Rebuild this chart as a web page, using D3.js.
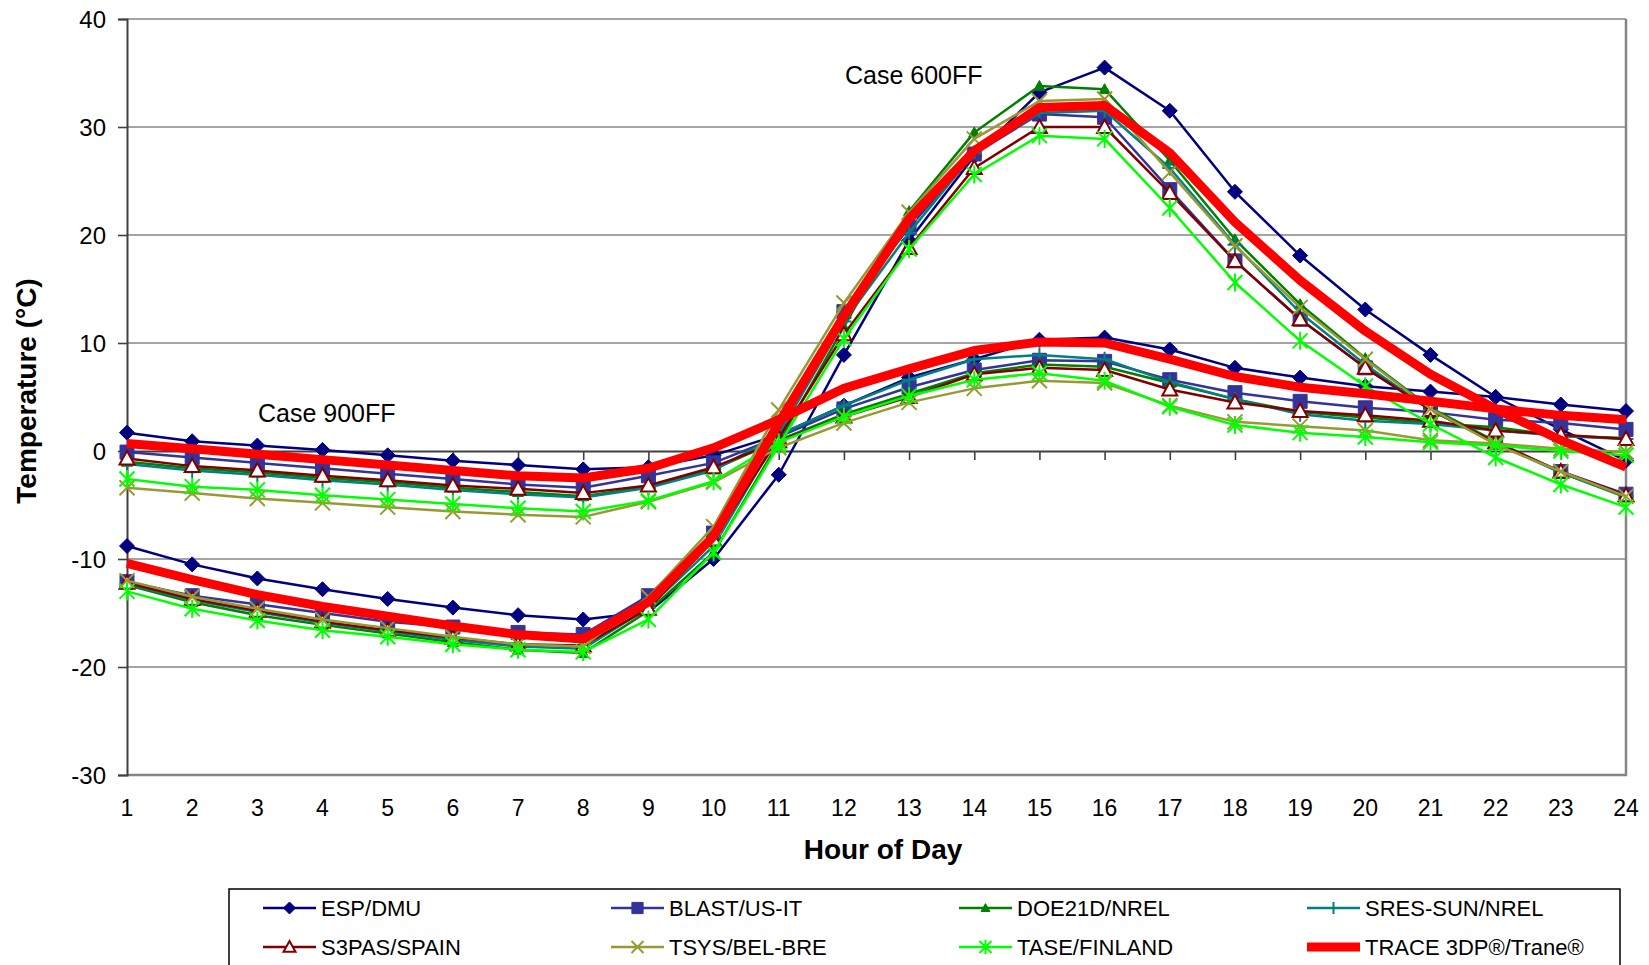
<!DOCTYPE html>
<html>
<head>
<meta charset="utf-8">
<style>
body { margin: 0; background: #fff; }
svg { display: block; font-family: "Liberation Sans", Arial, sans-serif; }
.tick text { font-size: 23px; fill: #000; }
</style>
</head>
<body>
<svg id="chart" width="1649" height="965"></svg>
<script src="https://cdnjs.cloudflare.com/ajax/libs/d3/7.8.5/d3.min.js"></script>
<script>
// hours on x axis
var hours = d3.range(1, 25)
var yTicks = [-30, -20, -10, 0, 10, 20, 30, 40]

var seriesNames = ['ESP/DMU', 'BLAST/US-IT', 'DOE21D/NREL', 'SRES-SUN/NREL', 'S3PAS/SPAIN', 'TSYS/BEL-BRE', 'TASE/FINLAND', 'TRACE 3DP\u00ae/Trane\u00ae']

// Case 600FF
var esp600   = [-8.8, -10.5, -11.8, -12.8, -13.7, -14.5, -15.2, -15.6, -14.9, -10.0, -2.2, 8.9, 19.5, 27.3, 33.2, 35.5, 31.5, 24.0, 18.1, 13.1, 8.9, 5.0, 2.0, -0.9]
var blast600 = [-12.1, -13.4, -14.2, -15.0, -15.8, -16.3, -16.8, -17.0, -13.4, -7.6, 2.0, 12.9, 20.7, 27.5, 31.2, 30.9, 24.2, 17.6, 12.2, 7.7, 3.8, 0.8, -1.9, -4.0]
var doe600   = [-12.4, -14.0, -15.2, -16.1, -16.9, -17.7, -18.4, -18.7, -14.8, -9.4, 0.8, 11.5, 22.2, 29.5, 33.8, 33.5, 26.9, 19.6, 13.6, 8.6, 4.0, 0.9, -2.0, -4.3]
var sres600  = [-12.3, -13.8, -14.9, -15.9, -16.7, -17.5, -18.1, -18.3, -14.5, -8.8, 1.5, 12.0, 20.2, 27.6, 31.3, 31.5, 26.2, 19.1, 12.8, 8.0, 3.8, 0.7, -2.0, -4.2]
var s3pas600 = [-12.2, -13.7, -14.8, -15.8, -16.6, -17.3, -17.9, -18.0, -14.6, -8.2, 1.2, 10.8, 18.8, 26.2, 30.0, 30.0, 23.9, 17.6, 12.2, 7.7, 3.8, 0.8, -1.9, -4.1]
var tsys600  = [-12.0, -13.5, -14.6, -15.6, -16.4, -17.2, -17.9, -18.1, -13.5, -7.0, 3.8, 13.7, 22.1, 28.9, 32.4, 32.6, 25.8, 19.0, 13.3, 8.5, 3.9, 0.6, -1.9, -4.2]
var tase600  = [-13.0, -14.6, -15.7, -16.6, -17.2, -17.9, -18.4, -18.6, -15.6, -9.4, 0.5, 10.4, 18.7, 25.6, 29.2, 28.9, 22.5, 15.6, 10.2, 6.0, 2.5, -0.6, -3.1, -5.2]
var trace600 = [-10.4, -11.9, -13.3, -14.4, -15.3, -16.2, -17.0, -17.4, -14.0, -7.9, 2.6, 12.5, 21.5, 27.8, 31.8, 32.0, 27.6, 21.2, 15.8, 11.1, 7.1, 3.9, 1.0, -1.5]

// Case 900FF
var esp900   = [1.7, 0.9, 0.5, 0.1, -0.4, -0.9, -1.3, -1.7, -1.5, -0.4, 1.5, 4.2, 6.8, 8.5, 10.3, 10.5, 9.4, 7.7, 6.8, 6.0, 5.5, 5.0, 4.3, 3.7]
var blast900 = [-0.1, -0.6, -1.1, -1.6, -2.1, -2.6, -3.1, -3.4, -2.3, -1.1, 1.3, 3.9, 5.9, 7.5, 8.4, 8.3, 6.6, 5.4, 4.6, 4.0, 3.6, 2.9, 2.6, 2.0]
var doe900   = [-1.0, -1.6, -2.0, -2.5, -2.9, -3.4, -3.8, -4.2, -3.3, -1.7, 1.0, 3.4, 5.3, 7.2, 8.0, 7.8, 6.3, 4.8, 3.6, 3.1, 2.6, 2.2, 1.4, 1.2]
var sres900  = [-1.2, -1.8, -2.2, -2.7, -3.1, -3.6, -4.0, -4.3, -3.4, -1.8, 1.5, 4.2, 6.6, 8.5, 8.9, 8.5, 6.4, 4.8, 3.4, 2.8, 2.5, 1.9, 1.4, 1.1]
var s3pas900 = [-0.7, -1.4, -1.8, -2.3, -2.7, -3.2, -3.5, -3.9, -3.2, -1.5, 0.9, 3.2, 5.0, 7.1, 7.7, 7.5, 5.7, 4.5, 3.7, 3.3, 2.8, 1.9, 1.5, 1.1]
var tsys900  = [-3.4, -3.9, -4.4, -4.8, -5.2, -5.6, -5.9, -6.1, -4.7, -2.9, 0.3, 2.6, 4.5, 5.8, 6.5, 6.3, 4.2, 2.7, 2.3, 1.9, 1.0, 0.7, 0.2, -0.1]
var tase900  = [-2.6, -3.3, -3.6, -4.1, -4.5, -4.9, -5.3, -5.6, -4.6, -2.8, 0.8, 3.2, 5.1, 6.6, 7.2, 6.5, 4.1, 2.4, 1.7, 1.3, 0.8, 0.5, 0.0, -0.4]
var trace900 = [0.7, 0.2, -0.3, -0.8, -1.3, -1.8, -2.3, -2.5, -1.6, 0.3, 2.9, 5.8, 7.6, 9.3, 10.1, 10.0, 8.5, 6.9, 5.9, 5.3, 4.6, 3.9, 3.3, 2.9]

var case600 = [esp600, blast600, doe600, sres600, s3pas600, tsys600, tase600, trace600]
var case900 = [esp900, blast900, doe900, sres900, s3pas900, tsys900, tase900, trace900]

var colors  = ['#000080', '#333399', '#008000', '#008080', '#800000', '#999933', '#00ff00', '#ff0000']
var markers = ['diamond', 'square', 'tri', 'plus', 'tri-open', 'x', 'star', 'none']

var svg = d3.select('#chart')

var x = d3.scaleLinear().domain([1, 24]).range([127, 1626])
var y = d3.scaleLinear().domain([-30, 40]).range([775, 19])

// gridlines
svg.append('g').selectAll('line')
  .data(yTicks.filter(d => d != 0 && d != -30))
  .enter().append('line')
  .attr('x1', x(1)).attr('x2', x(24))
  .attr('y1', d => y(d)).attr('y2', d => y(d))
  .attr('stroke', '#868686').attr('stroke-width', 1.6)

// plot border right + bottom
svg.append('path')
  .attr('d', 'M' + x(24) + ',' + y(40) + 'V' + y(-30) + 'H' + x(1))
  .attr('fill', 'none').attr('stroke', '#868686').attr('stroke-width', 2.5)

// y axis
var yAxis = d3.axisLeft(y).tickValues(yTicks).tickSize(9).tickPadding(12).tickFormat(d => String(d))
var gy = svg.append('g').attr('transform', 'translate(' + x(1) + ',0)').call(yAxis)
gy.select('.domain').attr('stroke', '#404040').attr('stroke-width', 2)
gy.selectAll('.tick line').attr('stroke', '#404040').attr('stroke-width', 1.6)
gy.selectAll('.tick text').attr('dy', '0.35em').style('font-size', '24px')

// x axis sits on the 0 line, labels at the bottom
var xAxis = d3.axisBottom(x).tickValues(hours).tickSize(9).tickFormat('')
var gx = svg.append('g').attr('transform', 'translate(0,' + y(0) + ')').call(xAxis)
gx.select('.domain').attr('stroke', '#404040').attr('stroke-width', 2)
gx.selectAll('.tick line').attr('stroke', '#404040').attr('stroke-width', 1.6)

svg.append('g').selectAll('text')
  .data(hours).enter().append('text')
  .attr('x', d => x(d)).attr('y', 816)
  .attr('text-anchor', 'middle')
  .style('font-size', '23px')
  .text(d => d)

// axis titles
svg.append('text')
  .attr('x', 883).attr('y', 859)
  .attr('text-anchor', 'middle')
  .style('font-size', '28px').style('font-weight', 'bold')
  .text('Hour of Day')
svg.append('text')
  .attr('transform', 'translate(36,391) rotate(-90)')
  .attr('text-anchor', 'middle')
  .style('font-size', '28px').style('font-weight', 'bold')
  .text('Temperature (\u00b0C)')

// marker paths
function markerPath(type, s) {
  var h = s / 2
  if (type == 'diamond') return 'M0,' + (-h) + 'L' + h + ',0L0,' + h + 'L' + (-h) + ',0Z'
  if (type == 'square') return 'M' + (-h) + ',' + (-h) + 'H' + h + 'V' + h + 'H' + (-h) + 'Z'
  if (type == 'tri' || type == 'tri-open') return 'M0,' + (-h) + 'L' + h + ',' + (h * 0.8) + 'H' + (-h) + 'Z'
  if (type == 'plus') return 'M' + (-h) + ',0H' + h + 'M0,' + (-h) + 'V' + h
  if (type == 'x') return 'M' + (-h) + ',' + (-h) + 'L' + h + ',' + h + 'M' + (-h) + ',' + h + 'L' + h + ',' + (-h)
  if (type == 'star') return 'M' + (-h) + ',' + (-h) + 'L' + h + ',' + h + 'M' + (-h) + ',' + h + 'L' + h + ',' + (-h) + 'M0,' + (-h * 1.2) + 'V' + (h * 1.2)
  return ''
}
var markerSize = { 'diamond': 15, 'square': 14, 'tri': 11, 'plus': 15, 'tri-open': 15, 'x': 15, 'star': 15 }

function styleMarker(sel, type, col) {
  if (type == 'diamond' || type == 'square' || type == 'tri') {
    sel.attr('fill', col).attr('stroke', col).attr('stroke-width', 1)
  } else if (type == 'tri-open') {
    sel.attr('fill', '#fff').attr('stroke', col).attr('stroke-width', 2)
  } else {
    sel.attr('fill', 'none').attr('stroke', col).attr('stroke-width', 2)
  }
}

var line = d3.line().x((d, i) => x(hours[i])).y(d => y(d))

function drawSeries(vals, k) {
  var col = colors[k]
  var g = svg.append('g')
  g.append('path')
    .attr('d', line(vals))
    .attr('fill', 'none')
    .attr('stroke', col)
    .attr('stroke-width', k == 7 ? 9 : 2.5)
    .attr('stroke-linejoin', 'round')
  if (markers[k] == 'none') return
  g.selectAll('path.m').data(vals).enter().append('path')
    .attr('class', 'm')
    .attr('transform', (d, i) => 'translate(' + x(hours[i]) + ',' + y(d) + ')')
    .attr('d', markerPath(markers[k], markerSize[markers[k]]))
    .call(styleMarker, markers[k], col)
}

for (var k = 0; k < 8; k++) {
  drawSeries(case600[k], k)
  drawSeries(case900[k], k)
}

// case labels
svg.append('text').attr('x', 845).attr('y', 84).style('font-size', '25px').text('Case 600FF')
svg.append('text').attr('x', 258).attr('y', 422).style('font-size', '25px').text('Case 900FF')

// legend
var leg = svg.append('g')
leg.append('rect')
  .attr('x', 229).attr('y', 889).attr('width', 1391).attr('height', 100)
  .attr('fill', '#fff').attr('stroke', '#000').attr('stroke-width', 1.5)

var li = leg.selectAll('g.item').data(seriesNames).enter().append('g')
  .attr('class', 'item')
  .attr('transform', (d, i) => 'translate(' + (263 + (i % 4) * 348) + ',' + (i < 4 ? 908 : 947) + ')')
li.append('line')
  .attr('x1', 0).attr('x2', 53).attr('y1', 0).attr('y2', 0)
  .attr('stroke', (d, i) => colors[i])
  .attr('stroke-width', (d, i) => i == 7 ? 9 : 2.5)
li.filter((d, i) => markers[i] != 'none').append('path')
  .attr('transform', 'translate(26.5,0)')
  .attr('d', (d, i) => markerPath(markers[i], markerSize[markers[i]] * 0.8))
  .each(function (d, i) { d3.select(this).call(styleMarker, markers[i], colors[i]) })
li.append('text')
  .attr('x', 58).attr('y', 0).attr('dy', '0.35em')
  .style('font-size', '22px')
  .text(d => d)
</script>
</body>
</html>
